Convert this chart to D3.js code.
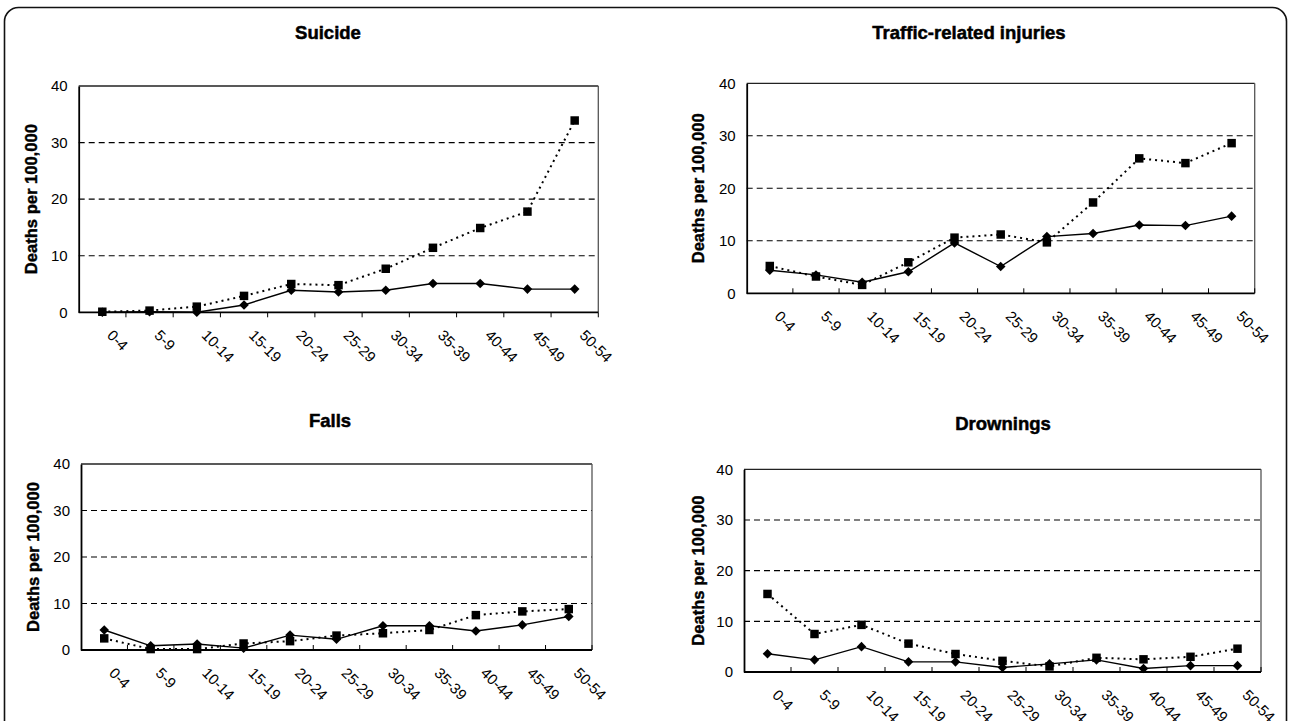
<!DOCTYPE html>
<html>
<head>
<meta charset="utf-8">
<script src="https://cdn.jsdelivr.net/npm/d3@7"></script>
<style>
  html, body { margin: 0; padding: 0; background: #fff; }
  svg { display: block; font-family: "Liberation Sans", Arial, sans-serif; }
</style>
</head>
<body>
<svg id="chart" width="1290" height="721"></svg>
<script>
// Age groups along the x axis
const ageGroups = ["0-4", "5-9", "10-14", "15-19", "20-24", "25-29", "30-34", "35-39", "40-44", "45-49", "50-54"];
const yTicks = [0, 10, 20, 30, 40];

// Deaths per 100,000 — solid line with diamonds / dotted line with squares
const suicideDiamond  = [0, 0.1, 0, 1.3, 3.9, 3.6, 3.9, 5.1, 5.1, 4.1, 4.1];
const suicideSquare   = [0.1, 0.3, 1.0, 2.9, 5.0, 4.8, 7.7, 11.4, 14.9, 17.8, 33.9];
const trafficDiamond  = [4.4, 3.5, 2.1, 4.1, 9.6, 5.1, 10.8, 11.4, 13.0, 12.9, 14.7];
const trafficSquare   = [5.2, 3.2, 1.6, 5.9, 10.6, 11.2, 9.7, 17.3, 25.7, 24.8, 28.6];
const fallsDiamond    = [4.3, 0.9, 1.3, 0.4, 3.2, 2.3, 5.2, 5.2, 4.1, 5.4, 7.2];
const fallsSquare     = [2.5, 0.2, 0.2, 1.4, 1.9, 3.1, 3.6, 4.3, 7.5, 8.3, 8.8];
const drowningDiamond = [3.6, 2.4, 5.0, 2.0, 2.0, 0.9, 1.6, 2.4, 0.7, 1.25, 1.25];
const drowningSquare  = [15.4, 7.5, 9.3, 5.6, 3.55, 2.2, 1.1, 2.8, 2.5, 3.0, 4.6];

const panelTitles = ["Suicide", "Traffic-related injuries", "Falls", "Drownings"];
const yAxisTitle = "Deaths per 100,000";

// Panel layout: plot box, title position, y-title position
const panels = [
  { title: panelTitles[0], diamond: suicideDiamond,  square: suicideSquare,
    x0: 78.7, x1: 598.3, y0: 86,    y1: 312.3, tx: 328,  ty: 32,  yt: 31,  tickOut: true },
  { title: panelTitles[1], diamond: trafficDiamond,  square: trafficSquare,
    x0: 746.7, x1: 1254.7, y0: 83.3, y1: 293.3, tx: 969, ty: 32, yt: 698, tickOut: false },
  { title: panelTitles[2], diamond: fallsDiamond,    square: fallsSquare,
    x0: 81, x1: 592, y0: 464, y1: 650, tx: 330, ty: 420, yt: 33, tickOut: false },
  { title: panelTitles[3], diamond: drowningDiamond, square: drowningSquare,
    x0: 744, x1: 1261, y0: 469.3, y1: 672, tx: 1003, ty: 423, yt: 698, tickOut: false }
];

const svg = d3.select("#chart");
svg.append("rect").attr("width", 1290).attr("height", 721).attr("fill", "#fff");

// Outer rounded frame
svg.append("rect")
  .attr("x", 4.5).attr("y", 7.5).attr("width", 1282).attr("height", 740)
  .attr("rx", 14).attr("ry", 14)
  .attr("fill", "none").attr("stroke", "#111").attr("stroke-width", 1.6);

panels.forEach(p => {
  const g = svg.append("g");
  const x = d3.scaleBand().domain(ageGroups).range([p.x0, p.x1]);
  const y = d3.scaleLinear().domain([0, 40]).range([p.y1, p.y0]);
  const cx = d => x(d) + x.bandwidth() / 2;

  // Title
  g.append("text")
    .attr("x", p.tx).attr("y", p.ty)
    .attr("text-anchor", "middle").attr("dominant-baseline", "central")
    .attr("font-weight", "bold").attr("font-size", 18.5)
    .attr("stroke", "#000").attr("stroke-width", 0.5)
    .text(p.title);

  // Y axis title
  g.append("text")
    .attr("transform", `translate(${p.yt},${(p.y0 + p.y1) / 2}) rotate(-90)`)
    .attr("text-anchor", "middle").attr("dominant-baseline", "central")
    .attr("font-weight", "bold").attr("font-size", 16)
    .attr("stroke", "#000").attr("stroke-width", 0.4)
    .attr("textLength", 150).attr("lengthAdjust", "spacingAndGlyphs")
    .text(yAxisTitle);

  // Dashed gridlines
  g.selectAll(".grid").data(yTicks.filter(t => t > 0 && t < 40)).join("line")
    .attr("x1", p.x0).attr("x2", p.x1)
    .attr("y1", d => y(d)).attr("y2", d => y(d))
    .attr("stroke", "#000").attr("stroke-width", 1.1)
    .attr("stroke-dasharray", "6,4");

  // Plot frame
  g.append("line").attr("x1", p.x0).attr("x2", p.x1).attr("y1", y(40)).attr("y2", y(40))
    .attr("stroke", "#222").attr("stroke-width", 1.3);
  g.append("line").attr("x1", p.x1).attr("x2", p.x1).attr("y1", y(40)).attr("y2", y(0))
    .attr("stroke", "#555").attr("stroke-width", 1.3);

  // Y axis (labels only)
  const yAxis = d3.axisLeft(y).tickValues(yTicks).tickSize(0).tickPadding(11);
  const ya = g.append("g").attr("transform", `translate(${p.x0},0)`).call(yAxis);
  ya.select(".domain").attr("stroke", "#000").attr("stroke-width", 1.8);
  ya.selectAll("text").attr("font-size", 15).attr("fill", "#000")
    .attr("font-family", "'Liberation Sans', Arial, sans-serif");

  // X axis: tick marks at band boundaries
  const xa = g.append("g").attr("transform", `translate(0,${p.y1})`);
  xa.append("line").attr("x1", p.x0).attr("x2", p.x1)
    .attr("stroke", "#000").attr("stroke-width", 1.8);
  const bounds = ageGroups.map((d, i) => p.x0 + (i + 1) * x.step());
  xa.selectAll(".tk").data(bounds).join("line")
    .attr("x1", d => d).attr("x2", d => d)
    .attr("y1", 0).attr("y2", p.tickOut ? 5 : -5)
    .attr("stroke", "#000").attr("stroke-width", 1);
  xa.selectAll(".lbl").data(ageGroups).join("text")
    .attr("transform", d => `translate(${cx(d) + 4},${24}) rotate(45)`)
    .attr("font-size", 15).attr("fill", "#000")
    .text(d => d);

  const line = d3.line().x((d, i) => cx(ageGroups[i])).y(d => y(d));

  // Dotted series with squares
  g.append("path").datum(p.square).attr("d", line)
    .attr("fill", "none").attr("stroke", "#000").attr("stroke-width", 2)
    .attr("stroke-dasharray", "2,4");
  g.selectAll(".sq").data(p.square).join("path")
    .attr("d", d3.symbol(d3.symbolSquare, 72)())
    .attr("transform", (d, i) => `translate(${cx(ageGroups[i])},${y(d)})`)
    .attr("fill", "#000");

  // Solid series with diamonds
  g.append("path").datum(p.diamond).attr("d", line)
    .attr("fill", "none").attr("stroke", "#000").attr("stroke-width", 1.4);
  g.selectAll(".dm").data(p.diamond).join("path")
    .attr("d", d3.symbol(d3.symbolSquare, 46)())
    .attr("transform", (d, i) => `translate(${cx(ageGroups[i])},${y(d)}) rotate(45)`)
    .attr("fill", "#000");
});
</script>
</body>
</html>
